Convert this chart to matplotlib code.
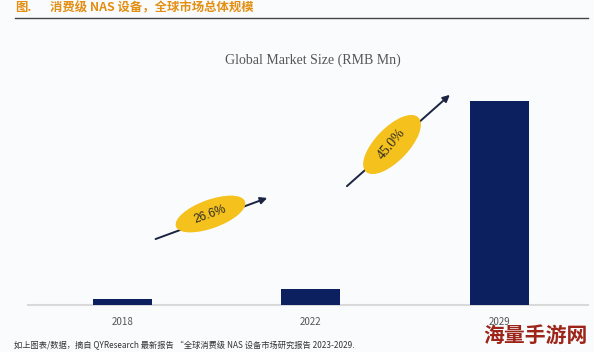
import matplotlib.pyplot as plt
import numpy as np
from matplotlib.patches import Ellipse

plt.rcParams['font.family'] = ['Noto Sans CJK SC', 'DejaVu Sans']

# data (bar heights, arbitrary units)
years = ['2018', '2022', '2029']
size_mn = [60, 153, 2035]
cagr_labels = ['26.6%', '45.0%']

navy = '#0c1f5e'
gold = '#f5c11c'
bg = '#fafbfd'

fig = plt.figure(figsize=(5.94, 3.52), dpi=100, facecolor=bg)

# bar area, in pixels: x 28..588, baseline at y 304.5
ax = fig.add_axes([28/594, (352-304.5)/352, 560/594, 264.5/352])
ax.set_facecolor('none')
x = np.arange(len(years))
ax.bar(x, size_mn, width=0.313, color=navy, zorder=3)
ax.set_xlim(-0.501, 2.47)
ax.set_ylim(0, 2645)
for s in ['top', 'right', 'left']:
    ax.spines[s].set_visible(False)
ax.spines['bottom'].set_color('#d9d9d9')
ax.spines['bottom'].set_linewidth(1.5)
ax.set_yticks([])
ax.set_xticks(x)
ax.set_xticklabels(years, fontsize=7, color='#555555')
ax.tick_params(axis='x', length=0, pad=9)

# growth arrows
arrow_kw = dict(arrowstyle='-|>', color='#1b2440', lw=1.4, mutation_scale=10)
ax.annotate('', xy=(0.782, 1075), xytext=(0.162, 645), arrowprops=arrow_kw)
ax.annotate('', xy=(1.748, 2115), xytext=(1.180, 1165), arrowprops=arrow_kw)

# overlay in figure pixels for the ellipses and header text
ov = fig.add_axes([0, 0, 1, 1], zorder=5)
ov.set_xlim(0, 594)
ov.set_ylim(0, 352)
ov.axis('off')
ov.patch.set_alpha(0)

ov.add_patch(Ellipse((210.5, 138), 72, 27, angle=20, color=gold))
ov.text(210.5, 138, cagr_labels[0], rotation=20, ha='center', va='center',
        fontsize=8.5, family='Liberation Sans', color='#2a2a2a',
        rotation_mode='anchor')
ov.add_patch(Ellipse((392, 207.5), 74, 32, angle=46, color=gold))
ov.text(392, 207.5, cagr_labels[1], rotation=50, ha='center', va='center',
        fontsize=10, family='Liberation Serif', color='#2a2a2a',
        rotation_mode='anchor')

# header
orange = '#e38f12'
ov.text(15, 344, '图.', fontsize=8.9, color=orange, weight='bold', va='center')
ov.text(50, 344, '消费级 NAS 设备，全球市场总体规模', fontsize=8.9, color=orange,
        weight='bold', va='center')
ov.plot([15, 588], [334, 334], color='#444444', lw=1.0)

ov.text(313, 292, 'Global Market Size (RMB Mn)', fontsize=10, family='Liberation Serif',
        color='#555555', ha='center', va='center')

# footnote
ov.text(14, 7, '如上图表/数据，摘自 QYResearch 最新报告 “全球消费级 NAS 设备市场研究报告 2023-2029.',
        fontsize=5.95, style='italic', color='#333333', va='center')

# watermark
ov.text(588, 17, '海量手游网', fontsize=15, weight='heavy', color='#9c2418',
        ha='right', va='center')

fig.savefig('out.png', dpi=100, facecolor=bg)
